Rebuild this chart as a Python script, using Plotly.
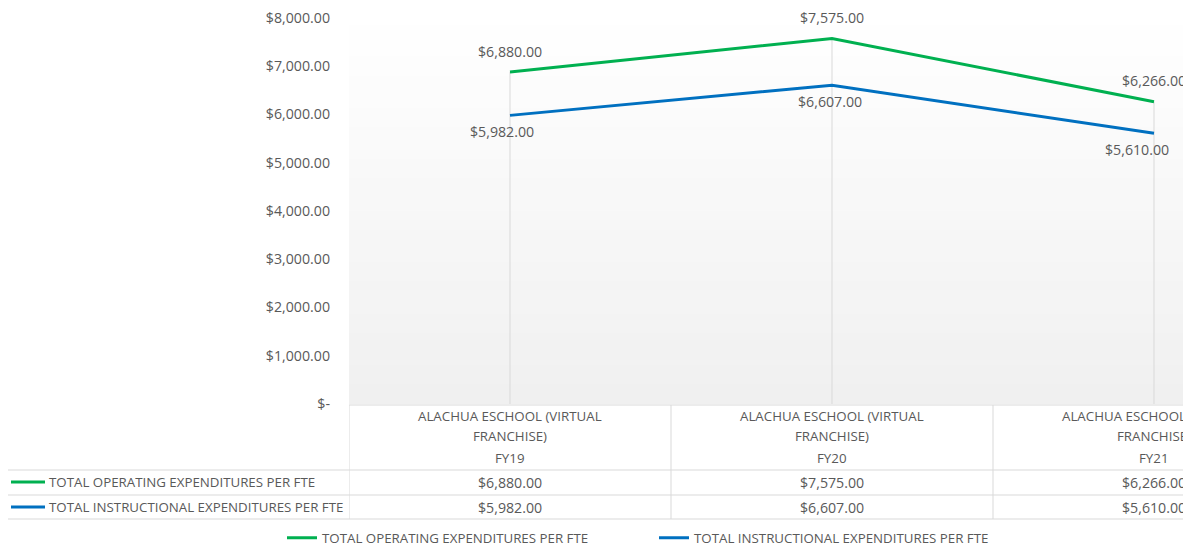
import plotly.graph_objects as go

# ---- data ----
school = ["ALACHUA ESCHOOL (VIRTUAL FRANCHISE)"] * 3
years = ["FY19", "FY20", "FY21"]
operating = [6880, 7575, 6266]
instructional = [5982, 6607, 5610]
series_names = ["TOTAL OPERATING EXPENDITURES PER FTE", "TOTAL INSTRUCTIONAL EXPENDITURES PER FTE"]
series_colors = ["#00B050", "#0070C0"]
y_ticks = [0, 1000, 2000, 3000, 4000, 5000, 6000, 7000, 8000]

FONT = "Open Sans"
GRAY = "#595959"
BORDER = "#D9D9D9"
FS_NUM = 14.2
FS_TXT = 13.3

# page has an 8px body margin; figure is sized so it fills the 1191x548 window
OFF = 8
W, H = 1191 - OFF, 548 - OFF
PLOT_LEFT, PLOT_TOP, PLOT_BOTTOM = 349, 18, 404   # in window pixels
PL, PR, PT = PLOT_LEFT - OFF, 0, PLOT_TOP - OFF
PB = H - (PLOT_BOTTOM - OFF)
plot_h = H - PT - PB
plot_w = W - PL - PR


def py(p):
    return (PLOT_BOTTOM - p) / plot_h


def px(p):
    return (p - PLOT_LEFT) / plot_w


def money(v):
    return "$-" if v == 0 else "${:,.2f}".format(v)


x_idx = list(range(len(years)))
fig = go.Figure()

# drop lines (from axis up to the highest series value)
for i in x_idx:
    fig.add_trace(go.Scatter(x=[i, i], y=[0, max(operating[i], instructional[i])], mode="lines",
                             line=dict(color=BORDER, width=1), showlegend=False, hoverinfo="skip"))

for vals, name, col in zip([operating, instructional], series_names, series_colors):
    fig.add_trace(go.Scatter(x=x_idx, y=vals, mode="lines", name=name,
                             line=dict(color=col, width=3)))

num = dict(family=FONT, size=FS_NUM, color=GRAY)
txt = dict(family=FONT, size=FS_TXT, color=GRAY)
anns = []
# data labels
blue_shift = [-8, -2, -17]
for i in x_idx:
    anns.append(dict(x=i, y=operating[i], xref="x", yref="y", text=money(operating[i]), showarrow=False,
                     yshift=21, xanchor="center", yanchor="middle", font=num))
    anns.append(dict(x=i, y=instructional[i], xref="x", yref="y", text=money(instructional[i]), showarrow=False,
                     yshift=-16, xshift=blue_shift[i], xanchor="center", yanchor="middle", font=num))

# data table texts
for i in x_idx:
    head1, head2 = school[i].split("(VIRTUAL ")
    rows = [(416, head1 + "(VIRTUAL", txt), (436, head2, txt), (458, years[i], txt),
            (482, money(operating[i]), num), (507, money(instructional[i]), num)]
    for yy, t, f in rows:
        anns.append(dict(x=i, y=py(yy), xref="x", yref="paper", text=t, showarrow=False,
                         xanchor="center", yanchor="middle", font=f))

shapes = []
# gradient background for plot area
N = 60
for k in range(N):
    t = k / N
    c = int(round(255 - (255 - 240) * (1 - t)))
    shapes.append(dict(type="rect", xref="paper", yref="paper", x0=0, x1=1, y0=t, y1=t + 1 / N + 0.002,
                       fillcolor=f"rgb({c},{c},{c})", line=dict(width=0), layer="below"))

# table lines
line = dict(color=BORDER, width=1)
shapes.append(dict(type="line", xref="paper", yref="paper", x0=0, x1=1, y0=py(405), y1=py(405), line=line))
for yy in (470, 495, 519):
    shapes.append(dict(type="line", xref="paper", yref="paper", x0=px(7), x1=1, y0=py(yy), y1=py(yy), line=line))
for xv in (-0.5, 0.5, 1.5):
    shapes.append(dict(type="line", xref="x", yref="paper", x0=xv, x1=xv, y0=py(405), y1=py(519), line=line))
shapes.append(dict(type="line", xref="paper", yref="paper", x0=px(7), x1=px(7), y0=py(470), y1=py(519), line=line))

# legend keys in the table
for k, (name, col) in enumerate(zip(series_names, series_colors)):
    yy = py(482 + 25 * k)
    shapes.append(dict(type="line", xref="paper", yref="paper", x0=px(11), x1=px(45), y0=yy, y1=yy,
                       line=dict(color=col, width=3)))
    anns.append(dict(x=px(47), y=yy, xref="paper", yref="paper", text=name, showarrow=False,
                     xanchor="left", yanchor="middle", font=txt))

fig.update_layout(
    width=W, height=H,
    margin=dict(l=PL, r=PR, t=PT, b=PB, pad=0, autoexpand=False),
    paper_bgcolor="white", plot_bgcolor="white",
    font=txt,
    xaxis=dict(range=[-0.5, -0.5 + plot_w / 322], showticklabels=False, showgrid=False, zeroline=False,
               showline=False, ticks=""),
    yaxis=dict(range=[0, 8000], tickvals=y_ticks, ticktext=[money(v) for v in y_ticks], showgrid=False,
               zeroline=False, showline=False, ticks="", ticklabelstandoff=18, tickfont=num,
               ticklabeloverflow="allow"),
    showlegend=True,
    legend=dict(orientation="h", x=px(282), xanchor="left", y=py(538), yanchor="middle",
                font=txt, entrywidth=327, entrywidthmode="pixels", bgcolor="rgba(0,0,0,0)"),
    annotations=anns, shapes=shapes,
)

fig.write_html("out.html")
